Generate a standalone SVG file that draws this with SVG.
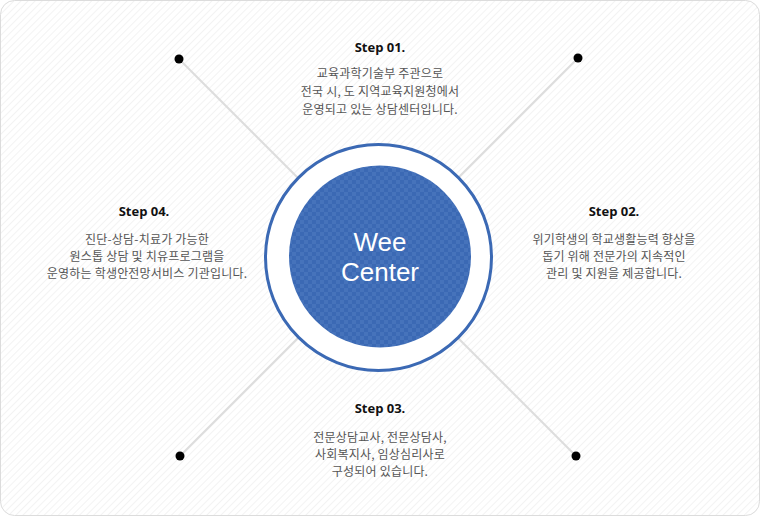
<svg xmlns="http://www.w3.org/2000/svg" width="760" height="516" viewBox="0 0 760 516">
<defs>
<pattern id="stripes" width="5" height="5" patternUnits="userSpaceOnUse" patternTransform="rotate(45)">
<rect width="5" height="5" fill="#ffffff"/>
<rect width="1" height="5" fill="#f3f3f3"/>
</pattern>
<pattern id="checker" width="8" height="8" patternUnits="userSpaceOnUse">
<rect width="8" height="8" fill="#3b69b4"/>
<rect width="4" height="4" fill="#4673bb"/>
<rect x="4" y="4" width="4" height="4" fill="#4673bb"/>
</pattern>
<style>
.title{font-family:"Open Sans","Noto Sans",sans-serif;font-weight:bold;font-size:13px;fill:#111;text-anchor:middle}
.body{font-family:"Noto Sans CJK KR","Noto Sans",sans-serif;font-size:12px;letter-spacing:0.2px;fill:#555;text-anchor:middle}
.conn{stroke:#dddddd;stroke-width:2}
.dot{fill:#000}
.wee{font-family:"Liberation Sans",Arial,sans-serif;font-size:26px;fill:#ffffff;text-anchor:middle}
</style>
</defs>
<rect x="0.5" y="0.5" width="759" height="515" rx="14" fill="url(#stripes)" stroke="#dcdcdc"/>
<g id="connectors">
<line class="conn" x1="179" y1="59" x2="378" y2="258"/>
<line class="conn" x1="578" y1="58" x2="378" y2="258"/>
<line class="conn" x1="180" y1="456" x2="378" y2="258"/>
<line class="conn" x1="576" y1="456" x2="378" y2="258"/>
<circle class="dot" cx="179" cy="59" r="4.5"/>
<circle class="dot" cx="578" cy="58" r="4.5"/>
<circle class="dot" cx="180" cy="456" r="4.5"/>
<circle class="dot" cx="576" cy="456" r="4.5"/>
</g>
<g id="center">
<circle cx="378.5" cy="257.5" r="113" fill="#ffffff" stroke="#3b69b4" stroke-width="3"/>
<circle cx="380" cy="256.5" r="91" fill="url(#checker)"/>
<text class="wee" x="380" y="251">Wee</text>
<text class="wee" x="380" y="281">Center</text>
</g>
<g id="step01">
<text class="title" x="380" y="52">Step 01.</text>
<text class="body" x="380" y="78">교육과학기술부 주관으로</text>
<text class="body" x="380" y="96">전국 시, 도 지역교육지원청에서</text>
<text class="body" x="380" y="114">운영되고 있는 상담센터입니다.</text>
</g>
<g id="step02">
<text class="title" x="614" y="216">Step 02.</text>
<text class="body" x="614" y="244">위기학생의 학교생활능력 향상을</text>
<text class="body" x="614" y="261">돕기 위해 전문가의 지속적인</text>
<text class="body" x="614" y="278">관리 및 지원을 제공합니다.</text>
</g>
<g id="step03">
<text class="title" x="380" y="413">Step 03.</text>
<text class="body" x="380" y="442">전문상담교사, 전문상담사,</text>
<text class="body" x="380" y="459">사회복지사, 임상심리사로</text>
<text class="body" x="380" y="476">구성되어 있습니다.</text>
</g>
<g id="step04">
<text class="title" x="144" y="216">Step 04.</text>
<text class="body" x="147" y="244">진단-상담-치료가 가능한</text>
<text class="body" x="147" y="261">원스톱 상담 및 치유프로그램을</text>
<text class="body" x="147" y="278">운영하는 학생안전망서비스 기관입니다.</text>
</g>
</svg>
